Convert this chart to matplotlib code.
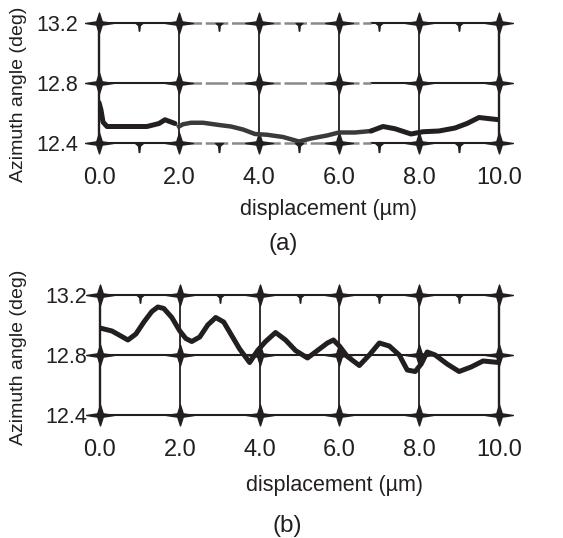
import matplotlib
matplotlib.use("Agg")
import matplotlib.pyplot as plt
from matplotlib.path import Path
import numpy as np

plt.rcParams['font.family'] = ['Liberation Sans', 'DejaVu Sans']

# Panel (a)
xa = [0.0, 0.05, 0.1, 0.2, 0.4, 0.8, 1.2, 1.5, 1.65, 1.75, 1.9, 2.0, 2.1, 2.3, 2.6,
      3.0, 3.3, 3.6, 3.9, 4.2, 4.6, 5.0, 5.3, 5.7, 6.0, 6.4, 6.8, 7.1, 7.4, 7.8,
      8.1, 8.5, 8.9, 9.2, 9.5, 10.0]
ya = [12.67, 12.62, 12.54, 12.51, 12.51, 12.51, 12.51, 12.53, 12.555, 12.545, 12.53, 12.51, 12.525, 12.535, 12.535,
      12.52, 12.51, 12.49, 12.46, 12.455, 12.44, 12.41, 12.43, 12.45, 12.47, 12.47, 12.48, 12.51, 12.495, 12.46,
      12.475, 12.48, 12.5, 12.53, 12.57, 12.555]

# Panel (b)
xb = [0.0, 0.3, 0.5, 0.7, 0.9, 1.1, 1.3, 1.45, 1.6, 1.8, 2.0, 2.15, 2.3, 2.5, 2.7, 2.9,
      3.1, 3.3, 3.5, 3.75, 3.95, 4.15, 4.4, 4.65, 4.9, 5.2, 5.5, 5.7, 5.85, 6.0, 6.2,
      6.5, 6.75, 7.0, 7.25, 7.5, 7.7, 7.9, 8.05, 8.2, 8.4, 8.7, 9.0, 9.3, 9.6, 10.0]
yb = [12.98, 12.96, 12.93, 12.90, 12.94, 13.02, 13.09, 13.12, 13.11, 13.05, 12.96, 12.91, 12.89, 12.92, 13.0, 13.05,
      13.02, 12.93, 12.84, 12.75, 12.83, 12.89, 12.95, 12.90, 12.83, 12.78, 12.84, 12.88, 12.90, 12.86, 12.79,
      12.73, 12.8, 12.88, 12.86, 12.8, 12.7, 12.69, 12.74, 12.82, 12.80, 12.74, 12.69, 12.72, 12.76, 12.75]

xticks = [0.0, 2.0, 4.0, 6.0, 8.0, 10.0]
yticks = [12.4, 12.8, 13.2]
minor_x = [1.0, 3.0, 5.0, 7.0, 9.0]

W, H = 563, 538
fig = plt.figure(figsize=(W / 100, H / 100), dpi=100)

# 4-pointed star with tapered arms
star = Path([(-1, 0), (-0.2, 0.12), (0, 0.75), (0.2, 0.12), (1, 0),
             (0.2, -0.12), (0, -0.75), (-0.2, -0.12), (-1, 0)],
            [Path.MOVETO] + [Path.LINETO] * 7 + [Path.CLOSEPOLY])
spike = Path([(-0.45, 0), (0.45, 0), (0.1, -0.3), (0.03, -1), (-0.03, -1), (-0.1, -0.3), (-0.45, 0)],
             [Path.MOVETO] + [Path.LINETO] * 5 + [Path.CLOSEPOLY])
INK = '#231f20'


def setup(ax, x, y, ypad, gray_span=None, minor_bottom=True):
    ax.set_xlim(0, 10)
    ax.set_ylim(12.4, 13.2)
    for s in ax.spines.values():
        s.set_visible(False)
    ax.set_xticks(xticks)
    ax.set_xticklabels([f"{v:.1f}" for v in xticks])
    ax.set_yticks(yticks)
    ax.set_yticklabels([f"{v:.1f}" for v in yticks])
    ax.tick_params(axis='x', length=0, pad=17, labelsize=17, colors=INK)
    ax.tick_params(axis='y', length=0, pad=ypad, labelsize=15.5, colors=INK)
    for xv in xticks:
        ax.axvline(xv, color=INK, lw=1.7 if xv in (0.0, 10.0) else 1.3, zorder=2, clip_on=False)
    for yv in yticks:
        if gray_span is None:
            ax.axhline(yv, color=INK, lw=1.5, zorder=2, clip_on=False)
        else:
            a, b = gray_span
            ax.plot([0, a], [yv, yv], color=INK, lw=1.5, zorder=2, clip_on=False)
            ax.plot([b, 10], [yv, yv], color=INK, lw=1.5, zorder=2, clip_on=False)
            ax.plot([a, b], [yv, yv], color='#8a8a8a', lw=1.8, dashes=(9, 1.5),
                    zorder=2, clip_on=False)
    gx, gy = np.meshgrid(xticks, yticks)
    ax.plot(gx.ravel(), gy.ravel(), linestyle='none', marker=star,
            markersize=20, color=INK, clip_on=False, zorder=3)
    ax.plot(minor_x, [13.2] * 5, linestyle='none', marker=spike, markersize=11,
            color=INK, clip_on=False, zorder=3)
    if minor_bottom:
        ax.plot(minor_x, [12.4] * 5, linestyle='none', marker=spike, markersize=13,
                color=INK, clip_on=False, zorder=3)
    if gray_span is None:
        ax.plot(x, y, color=INK, lw=3.6, solid_capstyle='round',
                solid_joinstyle='round', zorder=4)
    else:
        a, b = gray_span
        xx = np.array(x)
        yy = np.array(y)
        m1 = xx <= 1.9
        m2 = (xx >= a) & (xx <= b)
        m3 = xx >= b
        ax.plot(xx[m1], yy[m1], color=INK, lw=3.6, solid_capstyle='round',
                solid_joinstyle='round', zorder=4)
        ax.plot(xx[m2], yy[m2], color='#3a3a3a', lw=3.2, solid_joinstyle='round', zorder=4)
        ax.plot(xx[m3], yy[m3], color=INK, lw=3.6, solid_capstyle='round',
                solid_joinstyle='round', zorder=4)


ax1 = fig.add_axes([99 / W, 1 - 143 / H, 400 / W, 120 / H])
setup(ax1, xa, ya, ypad=15, gray_span=(2.0, 6.8))
ax2 = fig.add_axes([100 / W, 1 - 415 / H, 399 / W, 120 / H])
setup(ax2, xb, yb, ypad=9, minor_bottom=False)

for yc in (94, 357):
    fig.text(19 / W, 1 - yc / H, 'Azimuth angle (deg)', rotation=90, ha='center',
             va='center', fontsize=14, color=INK)
fig.text(328 / W, 1 - 210 / H, 'displacement (\u00b5m)', ha='center', va='center',
         fontsize=15.5, color=INK)
fig.text(334 / W, 1 - 485 / H, 'displacement (\u00b5m)', ha='center', va='center',
         fontsize=15.5, color=INK)
fig.text(283 / W, 1 - 244 / H, '(a)', ha='center', va='center', fontsize=17.5, color=INK)
fig.text(287 / W, 1 - 526 / H, '(b)', ha='center', va='center', fontsize=17.5, color=INK)

fig.savefig('out.png', dpi=100, facecolor='white')
